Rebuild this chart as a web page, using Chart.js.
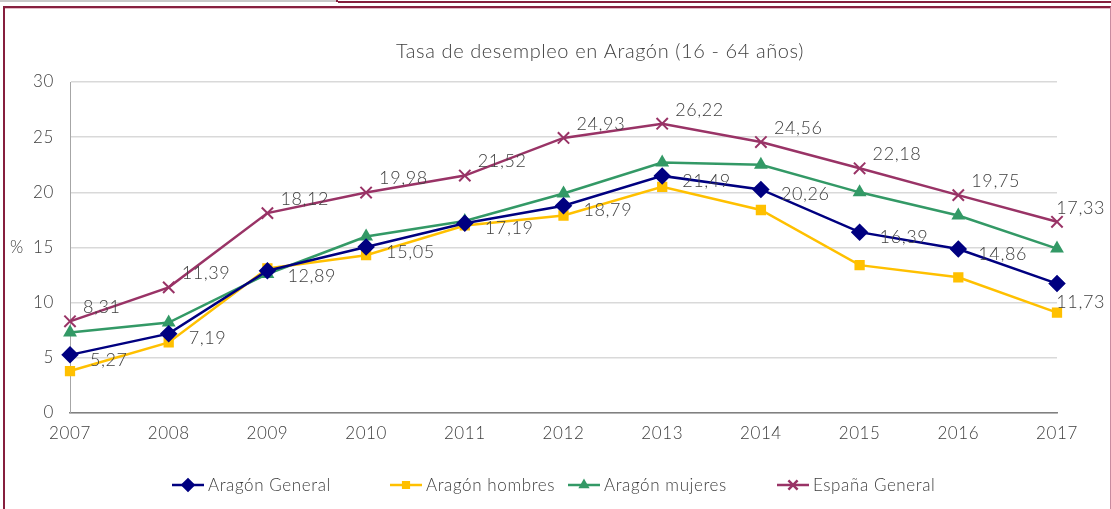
<!DOCTYPE html>
<html>
<head>
<meta charset="utf-8">
<script src="https://cdn.jsdelivr.net/npm/chart.js@4.4.1/dist/chart.umd.min.js"></script>
<style>
  html, body { margin: 0; padding: 0; background: #fff; }
  #wrap { position: relative; width: 1111px; height: 509px; overflow: hidden; }
  #tab { position: absolute; left: 0; top: -2px; width: 336px; height: 4px; background: #c9c9c9; border-right: 2px solid #861f3e; }
  #bar1 { position: absolute; left: 338px; top: 1px; width: 773px; height: 2px; background: #861f3e; }
  #frame { position: absolute; left: 3px; top: 6px; width: 1105px; height: 520px;
           border-top: 2px solid #861f3e; border-left: 2px solid #861f3e; border-right: 1px solid #c98aa0;
           box-shadow: inset 0 1px 0 #e3b9c6; }
  canvas { position: absolute; left: 0; top: 0; }
</style>
</head>
<body>
<div id="wrap">
  <div id="tab"></div>
  <div id="bar1"></div>
  <div id="frame"></div>
  <canvas id="chart" width="1111" height="509"></canvas>
</div>
<script>
/* datos */
const YEARS = ['2007', '2008', '2009', '2010', '2011', '2012', '2013', '2014', '2015', '2016', '2017'];
const ARAGON_GENERAL = [5.27, 7.19, 12.89, 15.05, 17.19, 18.79, 21.49, 20.26, 16.39, 14.86, 11.73];
const ARAGON_HOMBRES = [3.8, 6.4, 13.1, 14.3, 17.0, 17.9, 20.5, 18.4, 13.4, 12.3, 9.1];
const ARAGON_MUJERES = [7.3, 8.2, 12.6, 16.0, 17.4, 19.9, 22.7, 22.5, 20.0, 17.9, 14.9];
const ESPANA_GENERAL = [8.31, 11.39, 18.12, 19.98, 21.52, 24.93, 26.22, 24.56, 22.18, 19.75, 17.33];
const Y_TICKS = [0, 5, 10, 15, 20, 25, 30];

const FONT = "Lato, 'Open Sans', sans-serif";
const TXT = '#404040';

const COLORS = {
  navy:   '#000080',
  gold:   '#FFC000',
  green:  '#339966',
  purple: '#993366',
};

const fmt = v => v.toFixed(2).replace('.', ',');

/* letra más ancha, como la del original */
const spacing = {
  id: 'spacing',
  beforeLayout(chart) { chart.ctx.letterSpacing = '0.6px'; },
  beforeDraw(chart) { chart.ctx.letterSpacing = '0.6px'; },
};

/* etiquetas de datos (sin plugin datalabels) */
const dataLabels = {
  id: 'dataLabels',
  afterDatasetsDraw(chart) {
    const ctx = chart.ctx;
    ctx.save();
    ctx.font = `300 18px ${FONT}`;
    ctx.fillStyle = TXT;
    ctx.textBaseline = 'middle';
    ctx.textAlign = 'left';
    chart.data.datasets.forEach((ds, i) => {
      if (!ds.showLabels) return;
      const meta = chart.getDatasetMeta(i);
      meta.data.forEach((pt, j) => {
        const t = fmt(ds.data[j]);
        const w = ctx.measureText(t).width;
        let x = pt.x + ds.labelDx;
        let y = pt.y + ds.labelDy;
        if (x + w > chart.width - 6) { x = chart.width - 6 - w; y += ds.labelDy < 0 ? 0 : 14; }
        ctx.fillText(t, x, y);
      });
    });
    ctx.restore();
  },
};

/* título, "%" y leyenda */
const extras = {
  id: 'extras',
  afterDraw(chart) {
    const ctx = chart.ctx;
    ctx.save();
    ctx.fillStyle = TXT;
    ctx.font = `300 20px ${FONT}`;
    ctx.textAlign = 'center';
    ctx.textBaseline = 'middle';
    ctx.fillText('Tasa de desempleo en Aragón (16 - 64 años)', 600, 52);

    ctx.font = `300 17px ${FONT}`;
    ctx.fillText('%', 17, chart.scales.y.getPixelForValue(15));

    // leyenda
    const items = chart.data.datasets;
    const starts = [172, 390, 568, 777];
    ctx.textAlign = 'left';
    ctx.font = `300 17px ${FONT}`;
    items.forEach((ds, i) => {
      const x0 = starts[i], y0 = 485;
      ctx.strokeStyle = ds.borderColor;
      ctx.fillStyle = ds.borderColor;
      ctx.lineWidth = 2.5;
      ctx.beginPath();
      ctx.moveTo(x0, y0);
      ctx.lineTo(x0 + 32, y0);
      ctx.stroke();
      Chart.helpers.drawPoint(ctx, {
        pointStyle: ds.pointStyle,
        radius: ds.legendRadius,
        borderWidth: ds.pointStyle === 'crossRot' ? 1.5 : 1,
        rotation: 0,
      }, x0 + 16, y0);
      ctx.fillStyle = TXT;
      ctx.fillText(ds.label, x0 + 36, y0 + 1);
    });
    ctx.restore();
  },
};

function serie(label, data, color, style, radius, extra) {
  return Object.assign({
    label: label,
    data: data,
    borderColor: color,
    backgroundColor: color,
    pointBackgroundColor: color,
    pointBorderColor: color,
    pointStyle: style,
    pointRadius: radius,
    pointHoverRadius: radius,
    borderWidth: 2.5,
    tension: 0,
    legendRadius: radius - 1.5,
  }, extra || {});
}

Chart.defaults.font.family = FONT;
Chart.defaults.color = TXT;

new Chart(document.getElementById('chart'), {
  type: 'line',
  data: {
    labels: YEARS,
    datasets: [
      serie('Aragón General', ARAGON_GENERAL, COLORS.navy, 'rectRot', 7,
        { showLabels: true, labelDx: 20, labelDy: 5 }),
      serie('Aragón hombres', ARAGON_HOMBRES, COLORS.gold, 'rect', 5.5),
      serie('Aragón mujeres', ARAGON_MUJERES, COLORS.green, 'triangle', 5.5),
      serie('España General', ESPANA_GENERAL, COLORS.purple, 'crossRot', 8,
        { showLabels: true, labelDx: 13, labelDy: -14, pointBorderWidth: 2 }),
    ],
  },
  options: {
    responsive: false,
    animation: false,
    layout: { padding: { left: 20, right: 54, top: 82, bottom: 0 } },
    plugins: {
      legend: { display: false },
      title: { display: false },
      tooltip: { enabled: false },
    },
    scales: {
      x: {
        offset: false,
        grid: { display: false, drawTicks: true, tickLength: 7, tickColor: '#808080' },
        border: { color: '#808080', width: 1.5 },
        ticks: { font: { size: 17, weight: 300 }, color: TXT, padding: 3, maxRotation: 0 },
        afterFit: s => { s.height = 96; },
      },
      y: {
        min: 0, max: 30,
        afterBuildTicks: s => { s.ticks = Y_TICKS.map(v => ({ value: v })); },
        grid: { color: '#D9D9D9', lineWidth: 1.5, drawTicks: false },
        border: { display: true, color: '#A6A6A6', width: 1 },
        ticks: { font: { size: 17, weight: 300 }, color: TXT, padding: 16 },
        afterFit: s => { s.width = 50; },
      },
    },
  },
  plugins: [spacing, dataLabels, extras],
});
</script>
</body>
</html>
